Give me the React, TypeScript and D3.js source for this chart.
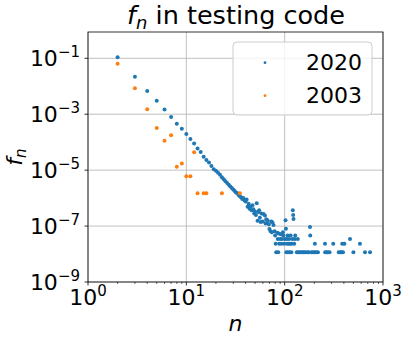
import React from "react";
import * as d3 from "d3";

// f_n frequencies
const blueN = [
  2, 3, 4, 5, 6, 7, 8, 9, 10, 11, 12, 13, 14, 15, 16, 17, 18, 19, 20, 21, 22, 23, 24, 25, 26, 27, 28, 29, 30, 31, 32,
  33, 34, 35, 36, 37, 38, 39, 40, 41, 42, 43, 44, 45, 46, 47, 48, 49, 50, 51, 52, 53, 54, 55, 56, 57, 58, 60, 61, 63,
  64, 65, 66, 67, 69, 70, 72, 73, 74, 75, 77, 79, 80, 81, 82, 84, 85, 86, 87, 88, 90, 91, 93, 94, 96, 97, 99, 100,
  102, 103, 104, 105, 106, 107, 108, 110, 111, 112, 114, 115, 117, 118, 120, 121, 122, 123, 125, 127, 128, 133, 136,
  137, 142, 147, 152, 157, 162, 170, 176, 181, 182, 188, 195, 202, 203, 210, 218, 257, 258, 265, 275, 286, 312, 355,
  368, 380, 385, 392, 405, 462, 500, 583, 656, 738,
];
const blueF = [
  1.1e-1, 2.2e-2, 6.8e-3, 3.0e-3, 1.46e-3, 8.0e-4, 4.6e-4, 3.0e-4, 1.97e-4, 1.3e-4, 8.9e-5, 6.0e-5, 4.5e-5, 3.0e-5,
  2.3e-5, 1.86e-5, 1.41e-5, 1.07e-5, 9.5e-6, 8.0e-6, 6.8e-6, 5.6e-6, 4.7e-6, 4.0e-6, 3.5e-6, 3.0e-6, 2.6e-6, 2.3e-6,
  2.05e-6, 1.8e-6, 1.6e-6, 1.5e-6, 1.3e-6, 1.17e-6, 1.07e-6, 9.3e-7, 1.0e-6, 8.3e-7, 7.6e-7, 8.9e-7, 4.9e-7, 6.3e-7,
  4.2e-7, 5.0e-7, 3.7e-7, 5.6e-7, 4.0e-7, 2.8e-7, 3.3e-7, 2.5e-7, 6.5e-7, 1.55e-7, 3.2e-7, 3.7e-7, 2.0e-7, 1.4e-7,
  2.8e-7, 1.45e-7, 2.7e-7, 2.4e-7, 1.23e-7, 1.74e-7, 1.3e-7, 1.6e-7, 1.17e-7, 7.9e-8, 6.5e-8, 1.45e-7, 6.0e-8,
  1.38e-7, 1.1e-7, 6.5e-8, 4.64e-8, 2.32e-8, 1.16e-8, 5.8e-8, 3.48e-8, 1.16e-8, 5.4e-8, 2.32e-8, 3.48e-8, 5.1e-8,
  2.32e-8, 3.48e-8, 6.0e-8, 4.64e-8, 2.32e-8, 3.48e-8, 1.6e-7, 8.1e-8, 1.16e-8, 3.48e-8, 2.32e-8, 4.64e-8, 1.16e-8,
  2.32e-8, 3.48e-8, 1.16e-8, 2.32e-8, 4.64e-8, 1.16e-8, 2.32e-8, 3.48e-8, 3.7e-7, 2.5e-7, 1.8e-7, 2.32e-8, 3.48e-8,
  4.64e-8, 1.16e-8, 3.48e-8, 1.16e-8, 1.16e-8, 1.16e-8, 1.16e-8, 1.16e-8, 1.16e-8, 1.16e-8, 1.16e-8, 9.3e-8, 4.64e-8,
  1.16e-8, 1.16e-8, 1.16e-8, 2.32e-8, 1.16e-8, 1.16e-8, 2.32e-8, 1.16e-8, 1.16e-8, 1.16e-8, 1.16e-8, 2.32e-8,
  1.16e-8, 1.16e-8, 1.16e-8, 2.32e-8, 1.16e-8, 2.32e-8, 3.48e-8, 1.16e-8, 2.32e-8, 1.16e-8, 1.16e-8,
];
const orangeN = [2, 3, 4, 5, 6, 7, 8, 9, 10, 11, 12, 13, 15, 16, 23, 35];
const orangeF = [
  6.35e-2, 8.5e-3, 1.5e-3, 3.2e-4, 1.12e-4, 1.78e-4, 1.32e-5, 1.74e-5, 6.0e-6, 6.0e-6, 4.4e-5, 1.5e-6, 1.5e-6, 1.5e-6,
  1.5e-6, 1.5e-6,
];
const seriesNames = ["2020", "2003"];
const xTicks = [1, 10, 100, 1000];
const yTicks = [1e-1, 1e-3, 1e-5, 1e-7, 1e-9];

const W = 407;
const H = 339;
const left = 88;
const right = 383;
const top = 32;
const bottom = 282;
const blue = "#1f77b4";
const orange = "#ff7f0e";
const font = "DejaVu Sans, sans-serif";

const App = () => {
  const x = d3.scaleLog().domain([1, 1000]).range([left, right]);
  const y = d3.scaleLog().domain([1e-9, Math.pow(10, -0.06)]).range([bottom, top]);

  const minorX: number[] = [];
  [1, 10, 100].forEach((d) => {
    for (let k = 2; k <= 9; k++) minorX.push(d * k);
  });

  return (
    <svg width={W} height={H} style={{ position: "absolute", left: 0, top: 0, background: "#fff" }} fontFamily={font}>
      {/* grid */}
      <g stroke="#b0b0b0" strokeWidth={0.8}>
        {xTicks.map((t) => (
          <line key={"gx" + t} x1={x(t)} x2={x(t)} y1={top} y2={bottom} />
        ))}
        {yTicks.map((t) => (
          <line key={"gy" + t} x1={left} x2={right} y1={y(t)} y2={y(t)} />
        ))}
      </g>

      {/* points */}
      <g fill={blue}>
        {blueN.map((n, i) => (
          <circle key={"b" + i} cx={x(n)} cy={y(blueF[i])} r={2} />
        ))}
      </g>
      <g fill={orange}>
        {orangeN.map((n, i) => (
          <circle key={"o" + i} cx={x(n)} cy={y(orangeF[i])} r={2} />
        ))}
      </g>

      {/* frame */}
      <rect x={left} y={top} width={right - left} height={bottom - top} fill="none" stroke="#000" strokeWidth={0.8} />

      {/* ticks */}
      <g stroke="#000" strokeWidth={0.8}>
        {xTicks.map((t) => (
          <line key={"tx" + t} x1={x(t)} x2={x(t)} y1={bottom} y2={bottom + 3.5} />
        ))}
        {minorX.map((t) => (
          <line key={"mx" + t} x1={x(t)} x2={x(t)} y1={bottom} y2={bottom + 2} strokeWidth={0.6} />
        ))}
        {yTicks.map((t) => (
          <line key={"ty" + t} x1={left - 3.5} x2={left} y1={y(t)} y2={y(t)} />
        ))}
      </g>
      <g fontSize={22} fill="#000">
        {xTicks.map((t) => (
          <text key={"lx" + t} x={x(t)} y={bottom + 23} textAnchor="middle">
            10
            <tspan fontSize={15} dy={-9}>
              {Math.round(Math.log10(t))}
            </tspan>
          </text>
        ))}
        {yTicks.map((t) => (
          <text key={"ly" + t} x={left - 8} y={y(t) + 8} textAnchor="end">
            10
            <tspan fontSize={15} dy={-9}>
              {"\u2212" + Math.abs(Math.round(Math.log10(t)))}
            </tspan>
          </text>
        ))}
      </g>

      {/* title and axis labels */}
      <text x={236} y={24} textAnchor="middle" fontSize={25.5}>
        <tspan fontStyle="italic">f</tspan>
        <tspan fontSize={18} fontStyle="italic" dy={5}>
          n
        </tspan>
        <tspan dy={-5}> in testing code</tspan>
      </text>
      <text x={(left + right) / 2} y={331} textAnchor="middle" fontSize={22} fontStyle="italic">
        n
      </text>
      <text transform={`translate(22, 157) rotate(-90)`} textAnchor="middle" fontSize={22}>
        <tspan fontStyle="italic">f</tspan>
        <tspan fontSize={15} fontStyle="italic" dy={4}>
          n
        </tspan>
      </text>

      {/* legend */}
      <rect x={233} y={42} width={139} height={73} rx={4} fill="#fff" fillOpacity={0.8} stroke="#cccccc" strokeWidth={1} />
      {seriesNames.map((s, i) => (
        <g key={s}>
          <circle cx={265} cy={62.7 + i * 33} r={1.4} fill={i === 0 ? blue : orange} />
          <text x={306} y={69.5 + i * 33} fontSize={22}>
            {s}
          </text>
        </g>
      ))}
    </svg>
  );
};

export default App;
